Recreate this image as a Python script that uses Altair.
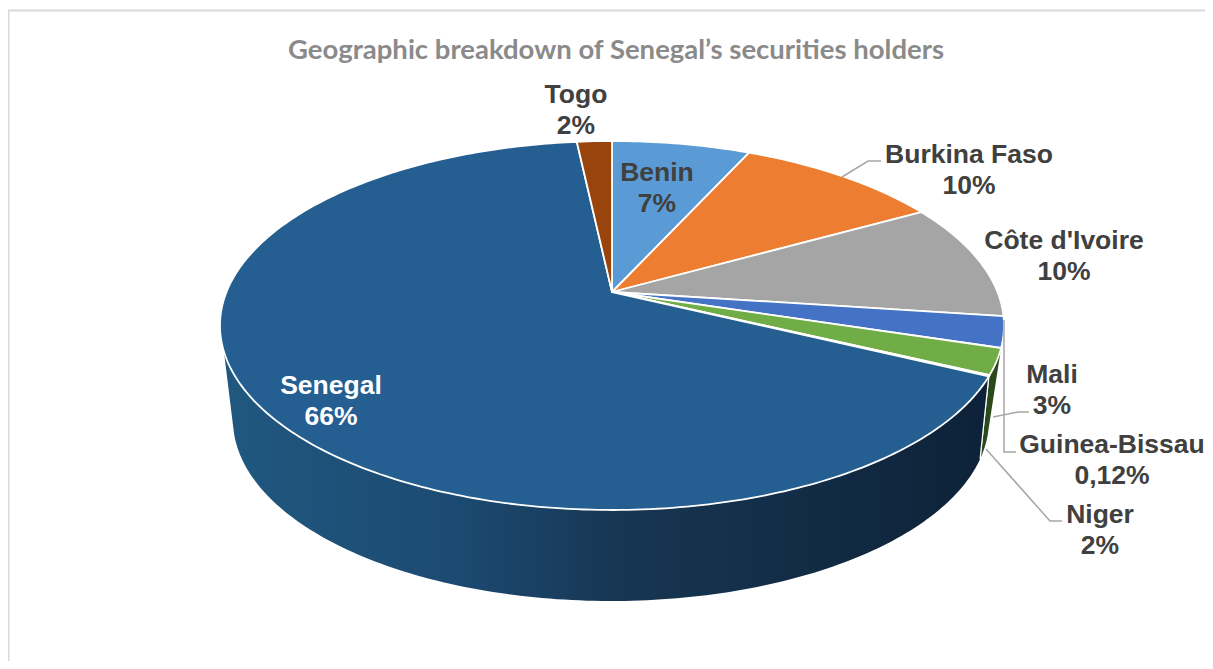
import math
import altair as alt

# --- values ---
countries = ["Benin", "Burkina Faso", "Côte d'Ivoire", "Mali", "Niger", "Guinea-Bissau", "Senegal", "Togo"]
shares = [6.8, 10.1, 10.2, 2.7, 2.26, 0.12, 66.1, 1.72]
colors = ["#5b9bd5", "#ed7d31", "#a5a5a5", "#4472c4", "#70ad47", "#264478", "#255e91", "#98440c"]

label_names = ["Togo", "Benin", "Burkina Faso", "Côte d'Ivoire", "Mali", "Guinea-Bissau", "Niger", "Senegal"]
label_values = ["2%", "7%", "10%", "10%", "3%", "0,12%", "2%", "66%"]
label_x = [576, 657, 969, 1064, 1052, 1112, 1100, 331]
label_y = [95, 173, 155, 241, 375, 445, 515, 386]
label_colors = ["#404040"] * 7 + ["#ffffff"]

leaders = [
    [(842, 177), (868, 161), (881, 161)],
    [(993, 417), (1018, 412), (1029, 412)],
    [(1004, 320), (1004, 452), (1016, 452)],
    [(986, 449), (1050, 521), (1062, 521)],
]

title_text = "Geographic breakdown of Senegal’s securities holders"

# --- pie geometry (perspective view of a disc) ---
APEX = (612.0, 292.0)
A, B, K = 385.5, 178.4, 0.1816
TOP_ELL = (612.5, 325.0, 392.0, 185.0)
BOT_ELL = (611.0, 420.0, 378.0, 181.0)
SIDE_STRETCH = 1.05
SIDE_END_PCT = 69.9


def top_point(pct):
    th = math.radians(pct * 3.6)
    u, v = math.sin(th), -math.cos(th)
    d = 1 - K * v
    return (APEX[0] + A * u / d, APEX[1] + B * v / d)


def bottom_point(pct):
    x, y = top_point(pct)
    cx, cy, rx, ry = TOP_ELL
    phi = math.degrees(math.atan2((x - cx) / rx, -(y - cy) / ry)) % 360
    pb = math.radians(180 + (phi - 180) * SIDE_STRETCH)
    bx, by, brx, bry = BOT_ELL
    return (bx + brx * math.sin(pb), by - bry * math.cos(pb))


def arc(p0, p1, fn=top_point):
    n = max(2, int(abs(p1 - p0) * 4))
    return [fn(p0 + (p1 - p0) * i / n) for i in range(n + 1)]


def poly(points):
    pts = [list(p) for p in points]
    pts.append(pts[0])
    return {"type": "Feature", "properties": {}, "geometry": {"type": "Polygon", "coordinates": [pts]}}


def line(points):
    return {"type": "Feature", "properties": {}, "geometry": {"type": "LineString", "coordinates": [list(p) for p in points]}}


def geo(features):
    return alt.InlineData(
        values={"type": "FeatureCollection", "features": features},
        format=alt.DataFormat(type="json", property="features"),
    )


PROJ = alt.Projection(type="identity", scale=1, translate=[-8, -8])

cum = {}
c = 0.0
for name, s in zip(countries, shares):
    cum[name] = (c, c + s)
    c += s

layers = []

# page frame
frame = [[(8.5, 680), (8.5, 10.5), (1230, 10.5)]]
layers.append(
    alt.Chart(geo([line(f) for f in frame])).mark_geoshape(filled=False, stroke="#d9d9d9", strokeWidth=2).project(**PROJ.to_dict())
)

# side walls
s0, s1 = cum["Senegal"]
side_senegal = arc(s0, SIDE_END_PCT) + arc(SIDE_END_PCT, s0, bottom_point)
layers.append(
    alt.Chart(geo([poly(side_senegal)])).mark_geoshape(
        stroke=None,
        fill=alt.Gradient(
            gradient="linear", x1=0, x2=1, y1=0, y2=0,
            stops=[
                alt.GradientStop(color="#20587f", offset=0),
                alt.GradientStop(color="#1c4a72", offset=0.3),
                alt.GradientStop(color="#173652", offset=0.52),
                alt.GradientStop(color="#0d2238", offset=1),
            ],
        ),
    ).project(**PROJ.to_dict())
)
n0, n1 = cum["Niger"]
side_niger = arc(n0, n1) + arc(n1, n0, bottom_point)
layers.append(
    alt.Chart(geo([poly(side_niger)])).mark_geoshape(fill="#2b4a1c", stroke=None).project(**PROJ.to_dict())
)
layers.append(
    alt.Chart(geo([line([top_point(s0), bottom_point(s0)])])).mark_geoshape(filled=False, stroke="#ffffff", strokeWidth=1.2).project(**PROJ.to_dict())
)

# top slices
for name, col in zip(countries, colors):
    p0, p1 = cum[name]
    pts = [APEX] + arc(p0, p1)
    layers.append(
        alt.Chart(geo([poly(pts)])).mark_geoshape(fill=col, stroke="#ffffff", strokeWidth=1.8, strokeJoin="round").project(**PROJ.to_dict())
    )

# leader lines
layers.append(
    alt.Chart(geo([line(l) for l in leaders])).mark_geoshape(filled=False, stroke="#a6a6a6", strokeWidth=1.5).project(**PROJ.to_dict())
)

# labels
rows = []
for n, v, x, y, col in zip(label_names, label_values, label_x, label_y, label_colors):
    rows.append({"t": n, "x": x - 8, "y": y - 8, "c": col})
    rows.append({"t": v, "x": x - 8, "y": y + 23, "c": col})
layers.append(
    alt.Chart(alt.Data(values=rows)).mark_text(
        font="Liberation Sans", fontWeight="bold", fontSize=26.5, align="center", baseline="middle"
    ).encode(
        x=alt.X("x:Q", scale=None),
        y=alt.Y("y:Q", scale=None),
        text="t:N",
        color=alt.Color("c:N", scale=None),
    )
)
layers.append(
    alt.Chart(alt.Data(values=[{"t": title_text, "x": 608, "y": 43}])).mark_text(
        font="Lato", fontWeight="bold", fontSize=27.5, align="center", baseline="middle", color="#8a8a8a"
    ).encode(x=alt.X("x:Q", scale=None), y=alt.Y("y:Q", scale=None), text="t:N")
)

chart = (
    alt.layer(*layers)
    .properties(width=1197, height=653, padding=0, autosize=alt.AutoSizeParams(type="none"), background="#ffffff")
    .configure_view(stroke=None)
)

chart.save("out.html", embed_options={"renderer": "svg", "actions": False})
